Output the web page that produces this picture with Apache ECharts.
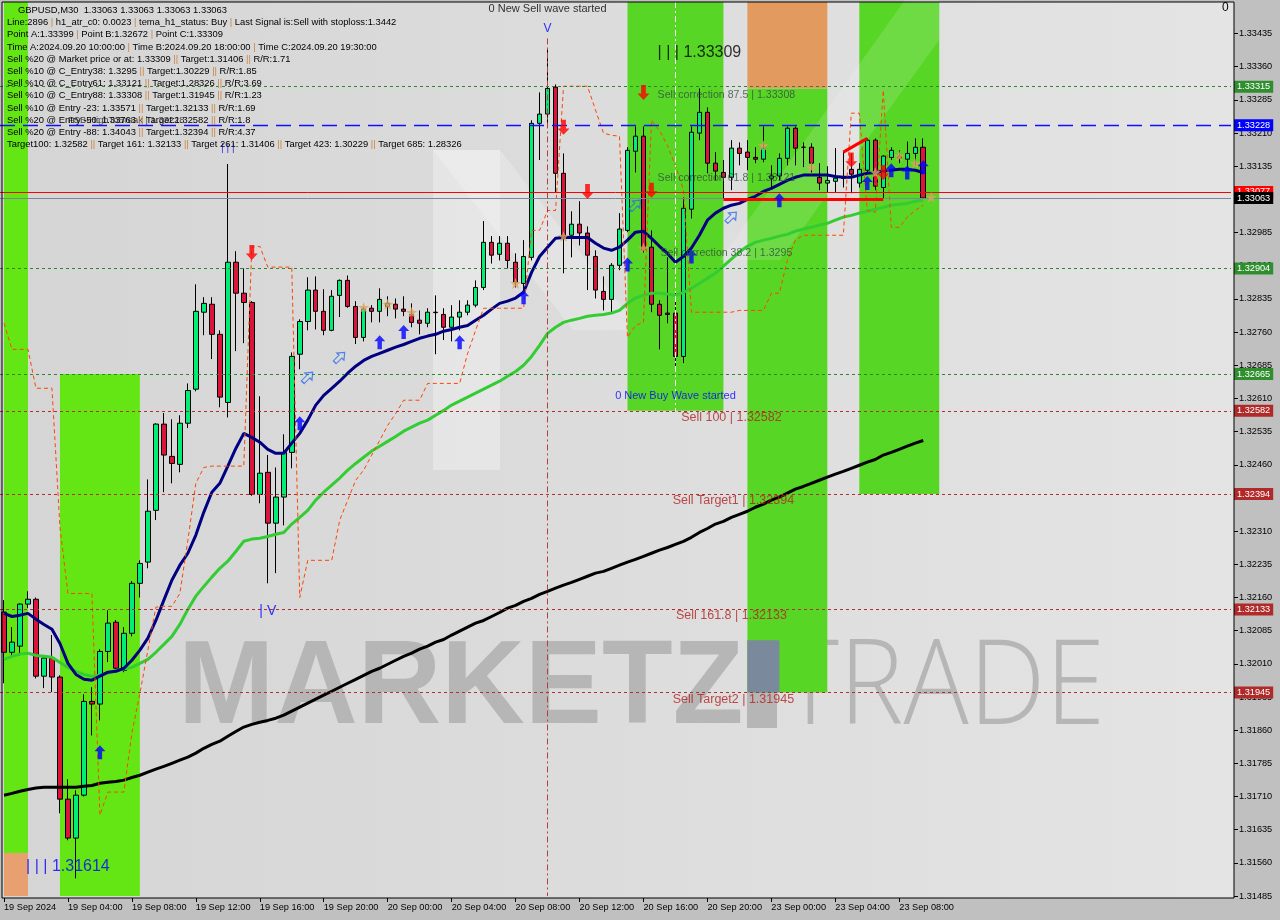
<!DOCTYPE html>
<html><head><meta charset="utf-8">
<script src="https://cdn.jsdelivr.net/npm/echarts@6/dist/echarts.min.js"></script>
<style>html,body{margin:0;padding:0;background:#c0c0c0;}#c{width:1280px;height:920px;}</style>
</head><body><div id="c"></div>
<script>
const FONT = 'Liberation Sans, Arial, sans-serif';
const tickLabels = ['19 Sep 2024','19 Sep 04:00','19 Sep 08:00','19 Sep 12:00','19 Sep 16:00','19 Sep 20:00','20 Sep 00:00','20 Sep 04:00','20 Sep 08:00','20 Sep 12:00','20 Sep 16:00','20 Sep 20:00','23 Sep 00:00','23 Sep 04:00','23 Sep 08:00'];
const opens = [1.32127,1.32036,1.32050,1.32145,1.32156,1.31982,1.32023,1.31980,1.31704,1.31616,1.31713,1.31925,1.31919,1.32038,1.32104,1.31995,1.32079,1.32192,1.32240,1.32357,1.32552,1.32479,1.32461,1.32554,1.32631,1.32805,1.32823,1.32755,1.32601,1.32918,1.32848,1.32827,1.32393,1.32443,1.32328,1.32387,1.32488,1.32710,1.32784,1.32855,1.32807,1.32764,1.32843,1.32877,1.32818,1.32748,1.32814,1.32807,1.32818,1.32823,1.32812,1.32800,1.32787,1.32780,1.32805,1.32800,1.32771,1.32794,1.32805,1.32821,1.32861,1.32963,1.32936,1.32961,1.32918,1.32870,1.32929,1.33232,1.33253,1.33314,1.33119,1.32979,1.33004,1.32984,1.32931,1.32852,1.32834,1.32911,1.32990,1.33169,1.33203,1.32952,1.32823,1.32803,1.32803,1.32705,1.33038,1.33210,1.33257,1.33142,1.33121,1.33110,1.33176,1.33167,1.33155,1.33151,1.33108,1.33113,1.33153,1.33221,1.33178,1.33178,1.33110,1.33097,1.33101,1.33108,1.33128,1.33097,1.33126,1.33194,1.33087,1.33155,1.33158,1.33151,1.33164,1.33178];
const closes = [1.32036,1.32059,1.32145,1.32156,1.31982,1.32023,1.31980,1.31704,1.31616,1.31713,1.31925,1.31919,1.32038,1.32102,1.32000,1.32079,1.32192,1.32237,1.32355,1.32552,1.32482,1.32463,1.32554,1.32628,1.32807,1.32825,1.32755,1.32613,1.32918,1.32848,1.32827,1.32393,1.32441,1.32328,1.32387,1.32488,1.32705,1.32784,1.32855,1.32807,1.32764,1.32841,1.32877,1.32818,1.32748,1.32812,1.32807,1.32834,1.32825,1.32812,1.32807,1.32782,1.32780,1.32805,1.32804,1.32771,1.32794,1.32805,1.32821,1.32861,1.32963,1.32934,1.32961,1.32922,1.32873,1.32931,1.33232,1.33253,1.33311,1.33119,1.32974,1.33004,1.32984,1.32934,1.32855,1.32834,1.32911,1.32993,1.33171,1.33203,1.32945,1.32823,1.32798,1.32800,1.32705,1.33040,1.33212,1.33257,1.33142,1.33124,1.33110,1.33176,1.33164,1.33155,1.33151,1.33176,1.33113,1.33153,1.33221,1.33176,1.33178,1.33142,1.33097,1.33103,1.33108,1.33108,1.33117,1.33128,1.33194,1.33090,1.33158,1.33171,1.33153,1.33164,1.33178,1.33063];
const lows = [1.31966,1.32029,1.32029,1.32136,1.31977,1.31955,1.31946,1.31672,1.31611,1.31525,1.31710,1.31848,1.31882,1.32014,1.31995,1.31991,1.32072,1.32160,1.32226,1.32335,1.32398,1.32418,1.32443,1.32543,1.32626,1.32753,1.32699,1.32590,1.32567,1.32717,1.32735,1.32390,1.32373,1.32192,1.32215,1.32323,1.32452,1.32676,1.32764,1.32766,1.32753,1.32762,1.32794,1.32815,1.32733,1.32739,1.32782,1.32782,1.32796,1.32791,1.32796,1.32771,1.32755,1.32771,1.32710,1.32742,1.32739,1.32764,1.32798,1.32816,1.32855,1.32915,1.32922,1.32904,1.32861,1.32855,1.32922,1.33149,1.33228,1.33076,1.32893,1.32929,1.32956,1.32855,1.32836,1.32809,1.32805,1.32900,1.32986,1.33121,1.32940,1.32805,1.32721,1.32780,1.32674,1.32690,1.33017,1.33194,1.33119,1.33103,1.33063,1.33081,1.33137,1.33126,1.33142,1.33144,1.33087,1.33103,1.33137,1.33137,1.33133,1.33121,1.33081,1.33076,1.33076,1.33087,1.33074,1.33087,1.33119,1.33081,1.33063,1.33149,1.33142,1.33126,1.33137,1.33058];
const highs = [1.32154,1.32093,1.32147,1.32174,1.32160,1.32029,1.32075,1.31984,1.31749,1.31724,1.31941,1.31957,1.32043,1.32131,1.32109,1.32093,1.32197,1.32244,1.32427,1.32554,1.32577,1.32563,1.32572,1.32644,1.32868,1.32839,1.32839,1.32764,1.33140,1.32943,1.32904,1.32830,1.32615,1.32482,1.32454,1.32529,1.32714,1.32789,1.32884,1.32886,1.32857,1.32855,1.32879,1.32888,1.32830,1.32816,1.32821,1.32859,1.32841,1.32836,1.32841,1.32825,1.32809,1.32814,1.32843,1.32814,1.32821,1.32832,1.32832,1.32877,1.33011,1.32977,1.32977,1.32977,1.32938,1.32968,1.33239,1.33302,1.33399,1.33320,1.33164,1.33033,1.33056,1.32999,1.32945,1.32886,1.32916,1.33029,1.33178,1.33225,1.33225,1.32990,1.32832,1.32929,1.32850,1.33065,1.33225,1.33311,1.33268,1.33167,1.33149,1.33194,1.33189,1.33194,1.33178,1.33225,1.33137,1.33164,1.33225,1.33225,1.33189,1.33187,1.33142,1.33135,1.33176,1.33167,1.33164,1.33142,1.33198,1.33198,1.33160,1.33178,1.33171,1.33191,1.33198,1.33198];
const maFast = [1.32124,1.32117,1.32120,1.32124,1.32111,1.32099,1.32088,1.32056,1.32011,1.31986,1.31975,1.31973,1.31982,1.31991,1.31993,1.32000,1.32018,1.32041,1.32068,1.32108,1.32154,1.32199,1.32233,1.32260,1.32301,1.32353,1.32398,1.32418,1.32457,1.32497,1.32531,1.32522,1.32511,1.32495,1.32486,1.32486,1.32509,1.32531,1.32561,1.32595,1.32617,1.32633,1.32649,1.32667,1.32683,1.32696,1.32705,1.32712,1.32719,1.32726,1.32732,1.32739,1.32746,1.32751,1.32755,1.32762,1.32766,1.32771,1.32775,1.32787,1.32798,1.32812,1.32825,1.32830,1.32837,1.32850,1.32895,1.32931,1.32952,1.32972,1.32974,1.32974,1.32974,1.32974,1.32961,1.32950,1.32945,1.32952,1.32968,1.32986,1.32988,1.32972,1.32954,1.32938,1.32918,1.32931,1.32950,1.32979,1.33013,1.33029,1.33040,1.33047,1.33051,1.33060,1.33067,1.33078,1.33085,1.33094,1.33103,1.33110,1.33115,1.33115,1.33115,1.33115,1.33112,1.33110,1.33110,1.33115,1.33119,1.33121,1.33124,1.33126,1.33128,1.33128,1.33126,1.33121];
const maMid = [1.32020,1.32027,1.32032,1.32034,1.32029,1.32027,1.32025,1.32013,1.32002,1.31993,1.31986,1.31982,1.31984,1.31989,1.31995,1.31998,1.32002,1.32011,1.32020,1.32036,1.32054,1.32072,1.32099,1.32133,1.32163,1.32185,1.32206,1.32226,1.32242,1.32264,1.32287,1.32292,1.32294,1.32298,1.32303,1.32307,1.32326,1.32341,1.32357,1.32380,1.32398,1.32414,1.32430,1.32448,1.32463,1.32477,1.32491,1.32502,1.32513,1.32524,1.32536,1.32545,1.32554,1.32561,1.32572,1.32583,1.32595,1.32604,1.32613,1.32622,1.32631,1.32640,1.32649,1.32660,1.32671,1.32685,1.32705,1.32730,1.32757,1.32771,1.32782,1.32787,1.32791,1.32796,1.32798,1.32800,1.32803,1.32809,1.32825,1.32837,1.32843,1.32848,1.32848,1.32846,1.32843,1.32850,1.32859,1.32870,1.32882,1.32893,1.32909,1.32925,1.32941,1.32954,1.32963,1.32968,1.32972,1.32977,1.32981,1.32988,1.32993,1.32997,1.33002,1.33006,1.33013,1.33020,1.33024,1.33029,1.33033,1.33038,1.33042,1.33047,1.33049,1.33051,1.33056,1.33058];
const maSlow = [1.31713,1.31717,1.31722,1.31726,1.31729,1.31731,1.31731,1.31731,1.31731,1.31731,1.31733,1.31735,1.31740,1.31742,1.31744,1.31747,1.31753,1.31758,1.31765,1.31772,1.31778,1.31785,1.31792,1.31799,1.31808,1.31819,1.31828,1.31835,1.31846,1.31857,1.31867,1.31873,1.31878,1.31882,1.31887,1.31894,1.31903,1.31912,1.31921,1.31930,1.31939,1.31948,1.31957,1.31966,1.31975,1.31984,1.31993,1.32000,1.32009,1.32018,1.32027,1.32034,1.32043,1.32050,1.32059,1.32065,1.32075,1.32084,1.32093,1.32102,1.32108,1.32117,1.32126,1.32136,1.32142,1.32151,1.32158,1.32167,1.32174,1.32181,1.32188,1.32194,1.32201,1.32208,1.32215,1.32219,1.32226,1.32233,1.32240,1.32246,1.32253,1.32260,1.32267,1.32273,1.32280,1.32287,1.32296,1.32307,1.32316,1.32326,1.32332,1.32341,1.32348,1.32355,1.32364,1.32371,1.32380,1.32387,1.32396,1.32405,1.32411,1.32418,1.32425,1.32432,1.32439,1.32445,1.32452,1.32459,1.32466,1.32472,1.32482,1.32488,1.32495,1.32502,1.32509,1.32515];
const trail = [1.32780,1.32721,1.32721,1.32721,1.32633,1.32633,1.32633,1.32319,1.32169,1.32169,1.32169,1.32169,1.31668,1.31720,1.31720,1.31720,1.31853,1.31943,1.32041,1.32138,1.32140,1.32140,1.32169,1.32289,1.32418,1.32454,1.32457,1.32457,1.32457,1.32457,1.32457,1.32952,1.32954,1.32907,1.32907,1.32907,1.32907,1.32160,1.32244,1.32244,1.32244,1.32244,1.32335,1.32380,1.32425,1.32448,1.32482,1.32515,1.32549,1.32576,1.32606,1.32606,1.32606,1.32644,1.32644,1.32644,1.32644,1.32644,1.32712,1.32764,1.32814,1.32814,1.32814,1.32814,1.32814,1.32814,1.32990,1.32990,1.33035,1.33035,1.33316,1.33316,1.33316,1.33316,1.33262,1.33210,1.33205,1.33203,1.32748,1.32775,1.32782,1.33239,1.33216,1.33182,1.33137,1.33081,1.32805,1.32805,1.32805,1.32805,1.32805,1.32805,1.32809,1.32809,1.32809,1.32809,1.32848,1.32848,1.32922,1.32968,1.32979,1.32979,1.32979,1.32979,1.32979,1.32979,1.33255,1.33255,1.33035,1.33031,1.33307,1.32997,1.32997,1.33020,1.33035,1.33047];
const sellArrows = [[31,1.32940],[70,1.33223],[73,1.33078],[80,1.33302],[81,1.33081],[106,1.33149],[110,1.33121]];
const buyArrows = [[12,1.31810],[37,1.32554],[47,1.32737],[50,1.32760],[57,1.32737],[65,1.32839],[78,1.32913],[86,1.32931],[97,1.33058],[108,1.33097],[111,1.33126],[113,1.33121],[115,1.33133]];
const hollowArrows = [[38,1.32658],[42,1.32703],[79,1.33047],[91,1.33020]];
const stars = [[45,1.32816],[48,1.32823],[51,1.32805],[64,1.32870],[70,1.32977],[80,1.32950],[95,1.33182],[101,1.33133],[109,1.33121],[112,1.33158],[114,1.33142],[116,1.33065]];
const patternFlat = [[90,1.33060],[110,1.33060]];
const patternSlope = [[105,1.33167],[108,1.33198]];
const greenLevels = [1.33315,1.32904,1.32665];
const redLevels = [1.32582,1.32394,1.32133,1.31945];
const blueLevel = 1.33228;
const redLine = 1.33077;
const lastPrice = 1.33063;
const infoLines = [
 'GBPUSD,M30  1.33063 1.33063 1.33063 1.33063',
 'Line:2896 | h1_atr_c0: 0.0023 | tema_h1_status: Buy | Last Signal is:Sell with stoploss:1.3442',
 'Point A:1.33399 | Point B:1.32672 | Point C:1.33309',
 'Time A:2024.09.20 10:00:00 | Time B:2024.09.20 18:00:00 | Time C:2024.09.20 19:30:00',
 'Sell %20 @ Market price or at: 1.33309 || Target:1.31406 || R/R:1.71',
 'Sell %10 @ C_Entry38: 1.3295 || Target:1.30229 || R/R:1.85',
 'Sell %10 @ C_Entry61: 1.33121 || Target:1.28326 || R/R:3.69',
 'Sell %10 @ C_Entry88: 1.33308 || Target:1.31945 || R/R:1.23',
 'Sell %10 @ Entry -23: 1.33571 || Target:1.32133 || R/R:1.69',
 'Sell %20 @ Entry -50: 1.33763 || Target:1.32582 || R/R:1.8',
 'Sell %20 @ Entry -88: 1.34043 || Target:1.32394 || R/R:4.37',
 'Target100: 1.32582 || Target 161: 1.32133 || Target 261: 1.31406 || Target 423: 1.30229 || Target 685: 1.28326'
];
// [text, barIndex, price, color, fontSize, align, verticalAlign, dx]
const annotations = [
 ['0 New Sell wave started',68,1.33490,'#000000',11,'center','middle',0],
 ['V',68,1.33445,'#0000ff',12,'center','middle',0],
 ['| | | 1.33309',87,1.33393,'#000000',16,'center','middle',0],
 ['Sell correction 87.5 | 1.33308',91,1.33308,'#2f4f3f',10.6,'center','top',-5],
 ['Sell correction 61.8 | 1.33121',91,1.33121,'#2f4f3f',10.6,'center','top',-5],
 ['Sell correction 38.2 | 1.3295',91,1.32950,'#2f4f3f',10.6,'center','top',-5],
 ['0 New Buy Wave started',84,1.32615,'#0000ff',11,'center','middle',0],
 ['Sell 100 | 1.32582',91,1.32582,'#b22222',12.5,'center','top',0],
 ['Sell Target1 | 1.32394',91,1.32394,'#b22222',12.5,'center','top',2],
 ['Sell 161.8 | 1.32133',91,1.32133,'#b22222',12.5,'center','top',0],
 ['Sell Target2 | 1.31945',91,1.31945,'#b22222',12.5,'center','top',2],
 ['| | | 1.31614',8,1.31552,'#0000ff',16,'center','middle',0],
 ['| V',33,1.32129,'#0000ff',14,'center','middle',0],
 ['| | |',28,1.33176,'#0000ff',10,'center','middle',0],
 ['FSB-HighToBreak | 1.33228',8,1.33228,'#202020',9.4,'left','bottom',0]
];

const Y_MIN = 1.31485, Y_MAX = 1.335064, N = 154;
const cats = Array.from({length:N},(_,i)=> (i%8===0 && i/8<tickLabels.length) ? tickLabels[i/8] : 'b'+i);
const showTick = (idx)=> idx%8===0 && idx/8<tickLabels.length;
const candles = opens.map((o,i)=>[o,closes[i],lows[i],highs[i]]);

const band = (x0,x1,y0,y1,color)=>[{xAxis:x0,yAxis:y0,itemStyle:{color:color}},{xAxis:x1,yAxis:y1}];
const LIME='#64e614', LIME2='#58d626';
const bands = [
 band(0,3,1.31582,Y_MAX,LIME),
 band(0,3,Y_MIN,1.31582,'#e8a070'),
 band(7,17,Y_MIN,1.32665,LIME),
 band(78,90,1.32582,Y_MAX,LIME2),
 band(93,103,1.31945,1.33311,LIME2),
 band(93,103,1.33311,Y_MAX,'#e39a5e'),
 band(93,97,1.31945,1.32063,'#7a8a9c'),
 band(107,117,1.32394,Y_MAX,LIME2)
];
const lvl = (p,lineColor,type,tag,width)=>({yAxis:p,lineStyle:{color:lineColor,type:type,width:width||1},
  label:{show:true,position:'end',distance:3,formatter:p.toFixed(5),color:'#ffffff',backgroundColor:tag,padding:[2,3,1,3],fontSize:9.2,fontFamily:FONT}});
const levelLines = [];
greenLevels.forEach(p=>levelLines.push(lvl(p,'#2a8a2a',[3,3],'#2f8f2f')));
redLevels.forEach(p=>levelLines.push(lvl(p,'#b03030',[3,3],'#b02a2a')));
levelLines.push(lvl(blueLevel,'#1010ff',[15,8],'#0000ff',1.3));
levelLines.push(lvl(redLine,'#ff0000','solid','#ff0000'));
levelLines.push(lvl(lastPrice,'#7a8898','solid','#000000'));
levelLines.push([{coord:[68,1.33424],lineStyle:{color:'#b04040',type:[6,3,2,3],width:1},label:{show:false}},{coord:[68,Y_MIN]}]);
levelLines.push([{coord:[84,Y_MAX],lineStyle:{color:'#f4f4f4',type:[6,3,2,3],width:1},label:{show:false}},{coord:[84,1.32582]}]);

const upPath='path://M5,0 L10,6 L7,6 L7,14 L3,14 L3,6 L0,6 Z';
const downPath='path://M3,0 L7,0 L7,8 L10,8 L5,14 L0,8 L3,8 Z';
const starPath='path://M5,0 L6.2,3.6 L10,3.8 L7,6.1 L8.1,9.8 L5,7.6 L1.9,9.8 L3,6.1 L0,3.8 L3.8,3.6 Z';

const chart = echarts.init(document.getElementById('c'),null,{width:1280,height:920});
const infoEls = infoLines.map((t,k)=>({type:'text',z:50,x:k===0?18:7,y:10.5+k*12.2,
  style:{text:t.replace(/(\|+)/g,'{s|$1}'),fill:'#000000',font:'9.4px '+FONT,verticalAlign:'middle',rich:{s:{fill:'#c8823c',font:'9.4px '+FONT}}}}));
chart.setOption({
 animation:false,
 backgroundColor:'#c0c0c0',
 grid:{left:-1,right:49,top:2,bottom:24,containLabel:false},
 xAxis:{type:'category',data:cats,boundaryGap:true,offset:2,
   axisLine:{show:false},
   axisTick:{show:true,alignWithLabel:true,interval:(i)=>showTick(i),length:4,lineStyle:{color:'#000'}},
   axisLabel:{interval:(i)=>showTick(i),formatter:(v)=>tickLabels.indexOf(v)>=0?v:'',align:'left',margin:5,fontSize:9.2,color:'#000',fontFamily:FONT},
   splitLine:{show:false}},
 yAxis:{type:'value',position:'right',min:Y_MIN,max:Y_MAX,interval:0.00075,offset:3,
   axisLine:{show:false},axisTick:{show:true,length:4,lineStyle:{color:'#000'}},
   axisLabel:{showMaxLabel:false,showMinLabel:true,margin:5,fontSize:9.2,color:'#000',fontFamily:FONT,formatter:(v)=>v.toFixed(5)},
   splitLine:{show:false}},
 graphic:[
  {type:'rect',z:0,shape:{x:2,y:2,width:1232,height:896},style:{fill:new echarts.graphic.LinearGradient(0,0,1,0,[{offset:0,color:'#d5d5d5'},{offset:1,color:'#e4e4e4'}])}},
  {type:'polygon',z:0,shape:{points:[[433,150],[500,150],[500,470],[433,470]]},style:{fill:'rgba(255,255,255,0.3)'}},
  {type:'polygon',z:0,shape:{points:[[433,150],[500,150],[640,330],[573,330]]},style:{fill:'rgba(255,255,255,0.22)'}},
  {type:'polygon',z:2,shape:{points:[[720,260],[780,260],[939,40],[939,0],[905,0]]},style:{fill:'rgba(255,255,255,0.14)'}},
  {type:'text',z:0,x:178,y:749,scaleX:0.98,style:{text:'MARKETZ',fill:'#b6b6b6',font:'bold 118px '+FONT,verticalAlign:'bottom'}},
  {type:'rect',z:0,shape:{x:747,y:640,width:30,height:88},style:{fill:'#b6b6b6'}},
  {type:'text',z:0,x:782,y:749,scaleX:0.92,style:{text:'TRADE',fill:'#b6b6b6',font:'300 118px Open Sans, '+FONT,verticalAlign:'bottom'}},
  {type:'rect',z:60,shape:{x:2,y:2,width:1232,height:896},style:{fill:null,stroke:'#000',lineWidth:1}},
  {type:'text',z:50,x:1222,y:8,style:{text:'0',fill:'#000',font:'12px '+FONT,verticalAlign:'middle'}}
 ].concat(infoEls),
 series:[
  {type:'candlestick',data:candles,barWidth:5,z:3,
   itemStyle:{color:'#00ee76',color0:'#dc143c',borderColor:'#000',borderColor0:'#000',borderWidth:1},
   markArea:{silent:true,data:bands},
   markLine:{silent:true,precision:5,symbol:['none','none'],animation:false,data:levelLines}},
  {type:'line',data:maSlow,symbol:'none',z:4,lineStyle:{color:'#000000',width:3}},
  {type:'line',data:maMid,symbol:'none',z:4,lineStyle:{color:'#33cc33',width:3}},
  {type:'line',data:maFast,symbol:'none',z:4,lineStyle:{color:'#000080',width:3}},
  {type:'line',data:trail,symbol:'none',z:4,lineStyle:{color:'#ff4500',width:1,type:[4,3]}},
  {type:'line',data:patternFlat,symbol:'none',z:5,lineStyle:{color:'#ff0000',width:3}},
  {type:'line',data:patternSlope,symbol:'none',z:5,lineStyle:{color:'#ff0000',width:3}},
  {type:'scatter',data:sellArrows,symbol:downPath,symbolSize:[12,15],z:6,itemStyle:{color:'#ff0000'}},
  {type:'scatter',data:buyArrows,symbol:upPath,symbolSize:[11,14],z:6,itemStyle:{color:'#0000ff'}},
  {type:'scatter',data:hollowArrows,symbol:upPath,symbolSize:[10,14],symbolRotate:-45,z:6,itemStyle:{color:'rgba(0,0,0,0)',borderColor:'#2a6df0',borderWidth:1.2}},
  {type:'scatter',data:stars,symbol:starPath,symbolSize:11,z:6,itemStyle:{color:'#dca45e'}},
  {type:'scatter',symbolSize:1,z:7,itemStyle:{color:'rgba(0,0,0,0)'},
   data:annotations.map(a=>({value:[a[1],a[2]],label:{show:true,position:'inside',offset:[a[7],0],formatter:a[0],color:a[3],fontSize:a[4],fontFamily:FONT,align:a[5],verticalAlign:a[6]}}))}
 ]
});
</script></body></html>
